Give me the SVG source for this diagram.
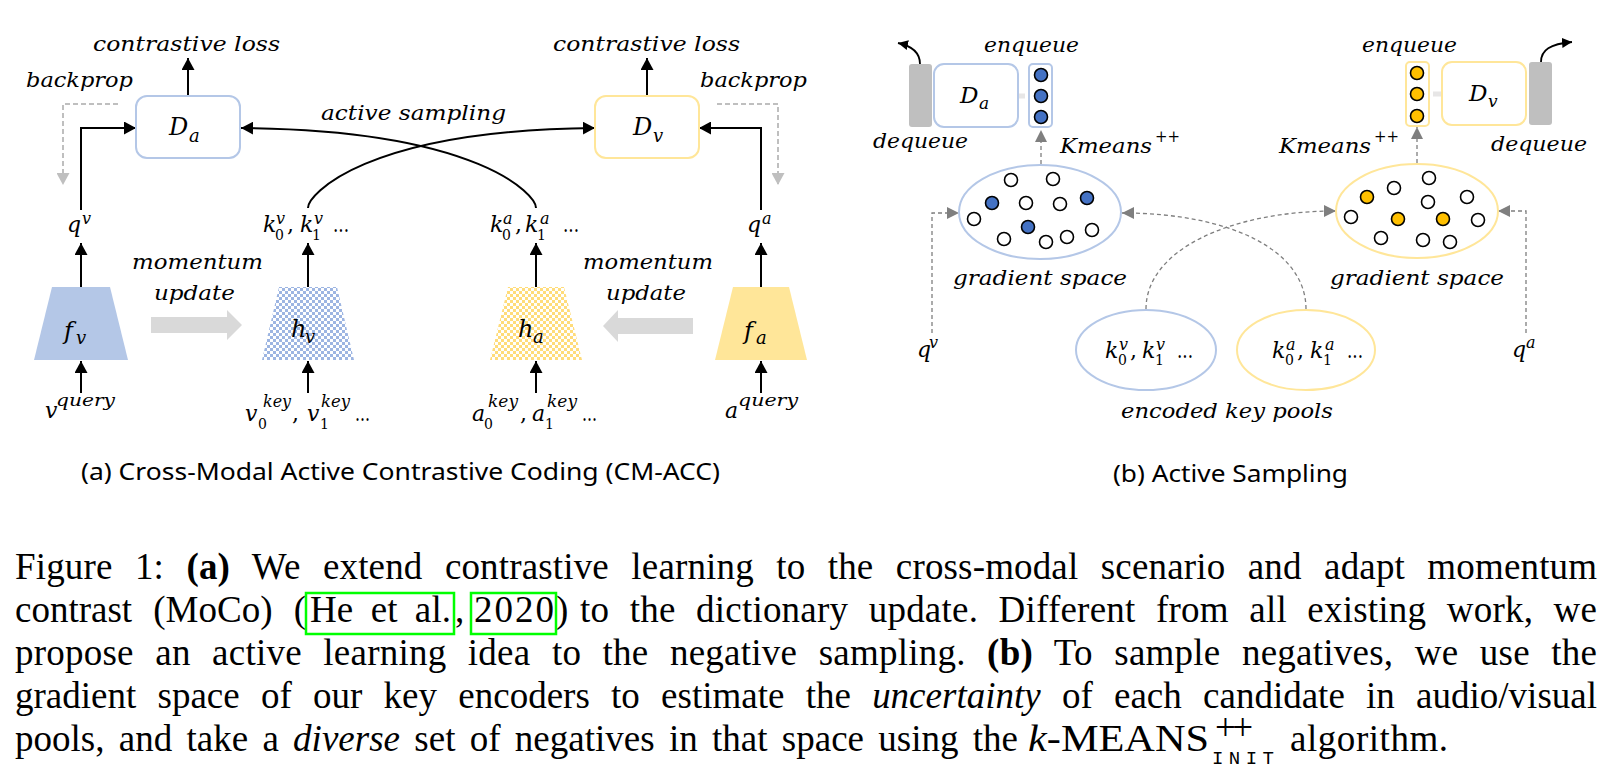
<svg xmlns="http://www.w3.org/2000/svg" width="1613" height="772" viewBox="0 0 1613 772">
<style>
.m{font-family:"DejaVu Serif",serif;font-style:italic;fill:#000}
.n{font-style:normal}
.t{font-size:21px}
.big{font-size:24px}
.sb{font-size:18px}
.lb{font-size:22px}
.sp{font-size:16px}
.sn{font-size:14px}
.cap{font-family:"Liberation Serif","Times New Roman",serif;font-size:37px;fill:#000}
.sc{font-family:"Noto Sans","Open Sans",sans-serif;font-size:24px;fill:#000}
.ln{stroke:#000;stroke-width:2;fill:none;marker-end:url(#ab)}
.bp{stroke:#bfbfbf;stroke-width:2;stroke-dasharray:5 3;fill:none;marker-end:url(#ag)}
.dl{stroke:#7f7f7f;stroke-width:1.3;stroke-dasharray:4 3;fill:none;marker-end:url(#ad)}
.cv{stroke:#000;stroke-width:1.8;fill:none;marker-end:url(#as)}
.bb{fill:#fff;stroke:#b4c7e7;stroke-width:2}
.yb{fill:#fff;stroke:#ffe699;stroke-width:2}
.bar{fill:#bfbfbf}
.wc{fill:#fff;stroke:#000;stroke-width:1.6}
.bc{fill:#4472c4;stroke:#000;stroke-width:1.6}
.oc{fill:#ffc000;stroke:#000;stroke-width:1.6}
.lg{fill:#e7e6e6}
.mom{fill:#d9d9d9}
.lnk{fill:none;stroke:#00ff00;stroke-width:2.5}
</style>
<defs>
<marker id="ab" markerUnits="userSpaceOnUse" markerWidth="13" markerHeight="13" refX="12" refY="6.5" orient="auto"><path d="M0,0 L12,6.5 L0,13 z" fill="#000"/></marker>
<marker id="ag" markerUnits="userSpaceOnUse" markerWidth="13" markerHeight="13" refX="12" refY="6.5" orient="auto"><path d="M0,0 L12,6.5 L0,13 z" fill="#bfbfbf"/></marker>
<marker id="ad" markerUnits="userSpaceOnUse" markerWidth="13" markerHeight="13" refX="12" refY="6" orient="auto"><path d="M0,0 L12,6 L0,12 z" fill="#7f7f7f"/></marker>
<marker id="as" markerUnits="userSpaceOnUse" markerWidth="11" markerHeight="11" refX="10" refY="5" orient="auto"><path d="M0,0 L10,5 L0,10 z" fill="#000"/></marker>
<pattern id="chkB" width="6" height="6" patternUnits="userSpaceOnUse"><rect width="6" height="6" fill="#fff"/><rect width="3" height="3" fill="#9db5e2"/><rect x="3" y="3" width="3" height="3" fill="#9db5e2"/></pattern>
<pattern id="chkY" width="6" height="6" patternUnits="userSpaceOnUse"><rect width="6" height="6" fill="#fff"/><rect width="3" height="3" fill="#ffdc7a"/><rect x="3" y="3" width="3" height="3" fill="#ffdc7a"/></pattern>
</defs>

<!-- ===== Part (a) ===== -->
<g id="connectors-a">
<path class="ln" d="M188,96 V58"/>
<path class="ln" d="M647,96 V58"/>
<path class="bp" d="M118,104 H63 V185"/>
<path class="bp" d="M717,104 H778 V185"/>
<path class="ln" d="M81,210 V128 H136"/>
<path class="ln" d="M761,210 V128 H699"/>
<path class="ln" d="M536,208 C536,195 480,130 241,128"/>
<path class="ln" d="M308,208 C308,195 364,130 595,128"/>
<path class="ln" d="M81,287 V243"/>
<path class="ln" d="M308,287 V243"/>
<path class="ln" d="M536,287 V243"/>
<path class="ln" d="M761,287 V243"/>
<path class="ln" d="M81,393 V361"/>
<path class="ln" d="M308,393 V361"/>
<path class="ln" d="M536,393 V361"/>
<path class="ln" d="M761,393 V361"/>
<polygon class="mom" points="151,317 227,317 227,310 242,325 227,340 227,333 151,333"/>
<polygon class="mom" points="693,318 618,318 618,310 603,326 618,342 618,334 693,334"/>
</g>

<g id="label-loss-left"><text class="m t" x="93" y="51" textLength="187" lengthAdjust="spacingAndGlyphs">contrastive loss</text></g>
<g id="label-loss-right"><text class="m t" x="553" y="51" textLength="187" lengthAdjust="spacingAndGlyphs">contrastive loss</text></g>
<g id="label-backprop-left"><text class="m t" x="26" y="87" textLength="107" lengthAdjust="spacingAndGlyphs">backprop</text></g>
<g id="label-backprop-right"><text class="m t" x="700" y="87" textLength="107" lengthAdjust="spacingAndGlyphs">backprop</text></g>
<g id="label-active-sampling"><text class="m t" x="321" y="120" textLength="185" lengthAdjust="spacingAndGlyphs">active sampling</text></g>
<g id="label-momentum-left"><text class="m t" x="132" y="269" textLength="131" lengthAdjust="spacingAndGlyphs">momentum</text><text class="m t" x="154" y="300" textLength="81" lengthAdjust="spacingAndGlyphs">update</text></g>
<g id="label-momentum-right"><text class="m t" x="583" y="269" textLength="130" lengthAdjust="spacingAndGlyphs">momentum</text><text class="m t" x="606" y="300" textLength="80" lengthAdjust="spacingAndGlyphs">update</text></g>

<g id="node-Da"><rect class="bb" x="136" y="96" width="104" height="62" rx="11"/><text class="m big" x="169" y="135">D</text><text class="m sb" x="189" y="142">a</text></g>
<g id="node-Dv"><rect class="yb" x="595" y="96" width="104" height="62" rx="11"/><text class="m big" x="633" y="135">D</text><text class="m sb" x="653" y="142">v</text></g>

<g id="node-fv"><polygon points="52,287 110,287 128,360 34,360" fill="#b4c7e7"/><text class="m big" x="64" y="339">f</text><text class="m sb" x="76" y="344">v</text></g>
<g id="node-hv"><polygon points="279,287 337,287 354,360 262,360" fill="url(#chkB)"/><text class="m big" x="291" y="337">h</text><text class="m sb" x="305" y="343">v</text></g>
<g id="node-ha"><polygon points="508,287 564,287 582,360 490,360" fill="url(#chkY)"/><text class="m big" x="518" y="337">h</text><text class="m sb" x="533" y="343">a</text></g>
<g id="node-fa"><polygon points="733,287 789,287 807,360 715,360" fill="#ffe699"/><text class="m big" x="744" y="339">f</text><text class="m sb" x="756" y="344">a</text></g>

<g id="label-qv-a"><text class="m lb" x="67" y="232">q</text><text class="m sp" x="82" y="224">v</text></g>
<g id="label-qa-a"><text class="m lb" x="747" y="232">q</text><text class="m sp" x="762" y="224">a</text></g>
<g id="label-kv-a"><text class="m lb" x="263" y="232">k</text><text class="m n sn" x="275" y="240">0</text><text class="m sp" x="276" y="224">v</text><text class="m n lb" x="287" y="232">,</text><text class="m lb" x="300" y="232">k</text><text class="m n sn" x="312" y="240">1</text><text class="m sp" x="314" y="224">v</text><text class="m n lb" x="333" y="232" textLength="16" lengthAdjust="spacingAndGlyphs">...</text></g>
<g id="label-ka-a"><text class="m lb" x="490" y="232">k</text><text class="m n sn" x="502" y="240">0</text><text class="m sp" x="503" y="224">a</text><text class="m n lb" x="515" y="232">,</text><text class="m lb" x="525" y="232">k</text><text class="m n sn" x="537" y="240">1</text><text class="m sp" x="540" y="224">a</text><text class="m n lb" x="563" y="232" textLength="16" lengthAdjust="spacingAndGlyphs">...</text></g>
<g id="label-vquery"><text class="m lb" x="45" y="418">v</text><text class="m sp" x="56" y="406" textLength="59" lengthAdjust="spacingAndGlyphs">query</text></g>
<g id="label-aquery"><text class="m lb" x="725" y="418">a</text><text class="m sp" x="738" y="406" textLength="60" lengthAdjust="spacingAndGlyphs">query</text></g>
<g id="label-vkey"><text class="m lb" x="245" y="421">v</text><text class="m n sn" x="258" y="429">0</text><text class="m sp" x="263" y="407" textLength="28" lengthAdjust="spacingAndGlyphs">key</text><text class="m n lb" x="292" y="421">,</text><text class="m lb" x="307" y="421">v</text><text class="m n sn" x="320" y="429">1</text><text class="m sp" x="321" y="407" textLength="29" lengthAdjust="spacingAndGlyphs">key</text><text class="m n lb" x="355" y="421" textLength="15" lengthAdjust="spacingAndGlyphs">...</text></g>
<g id="label-akey"><text class="m lb" x="472" y="421">a</text><text class="m n sn" x="484" y="429">0</text><text class="m sp" x="488" y="407" textLength="30" lengthAdjust="spacingAndGlyphs">key</text><text class="m n lb" x="520" y="421">,</text><text class="m lb" x="532" y="421">a</text><text class="m n sn" x="545" y="429">1</text><text class="m sp" x="547" y="407" textLength="30" lengthAdjust="spacingAndGlyphs">key</text><text class="m n lb" x="582" y="421" textLength="15" lengthAdjust="spacingAndGlyphs">...</text></g>

<g id="caption-a"><text class="sc" x="81" y="480" textLength="639" lengthAdjust="spacingAndGlyphs">(a) Cross-Modal Active Contrastive Coding (CM-ACC)</text></g>

<!-- ===== Part (b) ===== -->
<g id="connectors-b">
<path class="cv" d="M920,64 C920,52 912,46 898,43"/>
<path class="cv" d="M1541,62 C1541,50 1550,44 1572,42"/>
<path class="dl" d="M1041,164 V130"/>
<path class="dl" d="M1417,163 V127"/>
<path class="dl" d="M932,333 V213 H959"/>
<path class="dl" d="M1526,333 V211 H1498"/>
<path class="dl" d="M1146,309 C1146,250 1230,211 1336,211"/>
<path class="dl" d="M1306,309 C1306,250 1230,213 1122,213"/>
<rect class="lg" x="1007" y="93.5" width="18" height="5"/><polygon class="lg" points="1000,96 1008,90.5 1008,101.5"/>
<rect class="lg" x="1433" y="91.5" width="18" height="5"/><polygon class="lg" points="1459,94 1451,88.5 1451,99.5"/>
</g>

<g id="node-bar-left"><rect class="bar" x="909" y="64" width="23" height="63" rx="3"/></g>
<g id="node-Da-b"><rect class="bb" x="934" y="64" width="84" height="63" rx="10"/><text class="m" font-size="23" x="960" y="103">D</text><text class="m" font-size="17" x="979" y="109">a</text></g>
<g id="node-queue-left"><rect class="bb" x="1029" y="64" width="23" height="63" rx="4"/><circle class="bc" cx="1041" cy="75" r="6.5"/><circle class="bc" cx="1041" cy="96" r="6.5"/><circle class="bc" cx="1041" cy="117" r="6.5"/></g>
<g id="label-enqueue-left"><text class="m t" x="984" y="52" textLength="95" lengthAdjust="spacingAndGlyphs">enqueue</text></g>
<g id="label-dequeue-left"><text class="m t" x="873" y="148" textLength="95" lengthAdjust="spacingAndGlyphs">dequeue</text></g>
<g id="label-kmeans-left"><text class="m t" x="1060" y="153" textLength="92" lengthAdjust="spacingAndGlyphs">Kmeans</text><text class="m sp" x="1155" y="142" textLength="25" lengthAdjust="spacingAndGlyphs">++</text></g>

<g id="node-grad-left">
<ellipse class="bb" cx="1040" cy="212" rx="81" ry="47"/>
<circle class="wc" cx="1011" cy="180" r="6.5"/><circle class="wc" cx="1053" cy="179" r="6.5"/>
<circle class="bc" cx="992" cy="203" r="6.5"/><circle class="wc" cx="1026" cy="203" r="6.5"/>
<circle class="wc" cx="1060" cy="204" r="6.5"/><circle class="bc" cx="1087" cy="198" r="6.5"/>
<circle class="wc" cx="974" cy="219" r="6.5"/><circle class="bc" cx="1028" cy="227" r="6.5"/>
<circle class="wc" cx="1004" cy="239" r="6.5"/><circle class="wc" cx="1046" cy="242" r="6.5"/>
<circle class="wc" cx="1067" cy="237" r="6.5"/><circle class="wc" cx="1092" cy="230" r="6.5"/>
</g>
<g id="label-grad-left"><text class="m t" x="953" y="285" textLength="174" lengthAdjust="spacingAndGlyphs">gradient space</text></g>

<g id="node-queue-right"><rect class="yb" x="1406" y="62" width="23" height="64" rx="4"/><circle class="oc" cx="1417" cy="73" r="6.5"/><circle class="oc" cx="1417" cy="94" r="6.5"/><circle class="oc" cx="1417" cy="116" r="6.5"/></g>
<g id="node-Dv-b"><rect class="yb" x="1442" y="62" width="84" height="63" rx="10"/><text class="m" font-size="23" x="1469" y="101">D</text><text class="m" font-size="17" x="1488" y="107">v</text></g>
<g id="node-bar-right"><rect class="bar" x="1529" y="62" width="23" height="63" rx="3"/></g>
<g id="label-enqueue-right"><text class="m t" x="1362" y="52" textLength="95" lengthAdjust="spacingAndGlyphs">enqueue</text></g>
<g id="label-dequeue-right"><text class="m t" x="1491" y="151" textLength="96" lengthAdjust="spacingAndGlyphs">dequeue</text></g>
<g id="label-kmeans-right"><text class="m t" x="1279" y="153" textLength="92" lengthAdjust="spacingAndGlyphs">Kmeans</text><text class="m sp" x="1374" y="142" textLength="25" lengthAdjust="spacingAndGlyphs">++</text></g>

<g id="node-grad-right">
<ellipse class="yb" cx="1417" cy="211" rx="81" ry="47"/>
<circle class="oc" cx="1367" cy="197" r="6.5"/><circle class="wc" cx="1394" cy="188" r="6.5"/>
<circle class="wc" cx="1429" cy="178" r="6.5"/><circle class="wc" cx="1428" cy="202" r="6.5"/>
<circle class="wc" cx="1467" cy="197" r="6.5"/><circle class="wc" cx="1351" cy="217" r="6.5"/>
<circle class="oc" cx="1398" cy="219" r="6.5"/><circle class="oc" cx="1443" cy="219" r="6.5"/>
<circle class="wc" cx="1478" cy="220" r="6.5"/><circle class="wc" cx="1381" cy="238" r="6.5"/>
<circle class="wc" cx="1423" cy="240" r="6.5"/><circle class="wc" cx="1450" cy="242" r="6.5"/>
</g>
<g id="label-grad-right"><text class="m t" x="1330" y="285" textLength="174" lengthAdjust="spacingAndGlyphs">gradient space</text></g>

<g id="label-qv-b"><text class="m lb" x="917" y="357">q</text><text class="m sp" x="929" y="348">v</text></g>
<g id="label-qa-b"><text class="m lb" x="1512" y="357">q</text><text class="m sp" x="1526" y="348">a</text></g>

<g id="node-pool-v"><ellipse class="bb" cx="1146" cy="350" rx="70" ry="40"/><text class="m lb" x="1105" y="358">k</text><text class="m n sn" x="1118" y="365">0</text><text class="m sp" x="1119" y="350">v</text><text class="m n lb" x="1130" y="358">,</text><text class="m lb" x="1142" y="358">k</text><text class="m n sn" x="1155" y="365">1</text><text class="m sp" x="1156" y="350">v</text><text class="m n lb" x="1177" y="358" textLength="16" lengthAdjust="spacingAndGlyphs">...</text></g>
<g id="node-pool-a"><ellipse class="yb" cx="1306" cy="350" rx="69" ry="40"/><text class="m lb" x="1272" y="358">k</text><text class="m n sn" x="1285" y="365">0</text><text class="m sp" x="1286" y="350">a</text><text class="m n lb" x="1297" y="358">,</text><text class="m lb" x="1310" y="358">k</text><text class="m n sn" x="1323" y="365">1</text><text class="m sp" x="1325" y="350">a</text><text class="m n lb" x="1347" y="358" textLength="16" lengthAdjust="spacingAndGlyphs">...</text></g>
<g id="label-pools"><text class="m t" x="1121" y="418" textLength="212" lengthAdjust="spacingAndGlyphs">encoded key pools</text></g>
<g id="caption-b"><text class="sc" x="1113" y="482" textLength="235" lengthAdjust="spacingAndGlyphs">(b) Active Sampling</text></g>

<!-- ===== Figure caption ===== -->
<g id="figure-caption">
<text class="cap" x="15" y="579" word-spacing="13" textLength="1582" lengthAdjust="spacing">Figure 1:  <tspan font-weight="bold">(a)</tspan> We extend contrastive learning to the cross-modal scenario and adapt momentum</text>
<text class="cap" x="15" y="622" word-spacing="12" textLength="291" lengthAdjust="spacing">contrast (MoCo) (</text>
<text class="cap" x="310" y="622" word-spacing="8" textLength="141" lengthAdjust="spacing">He et al.</text>
<text class="cap" x="455" y="622">,</text>
<text class="cap" x="474" y="622" textLength="80" lengthAdjust="spacing">2020</text>
<text class="cap" x="556" y="622">)</text>
<text class="cap" x="580" y="622" word-spacing="11" textLength="1017" lengthAdjust="spacing">to the dictionary update.  Different from all existing work, we</text>
<rect class="lnk" x="306" y="593" width="148" height="41"/>
<rect class="lnk" x="471" y="593" width="85" height="41"/>
<text class="cap" x="15" y="665" word-spacing="12" textLength="1582" lengthAdjust="spacing">propose an active learning idea to the negative sampling.  <tspan font-weight="bold">(b)</tspan> To sample negatives, we use the</text>
<text class="cap" x="15" y="708" word-spacing="12" textLength="1582" lengthAdjust="spacing">gradient space of our key encoders to estimate the <tspan font-style="italic">uncertainty</tspan> of each candidate in audio/visual</text>
<text class="cap" x="15" y="751" word-spacing="5" textLength="1003" lengthAdjust="spacing">pools, and take a <tspan font-style="italic">diverse</tspan> set of negatives in that space using the</text>
<text class="cap" x="1028" y="751" textLength="181" lengthAdjust="spacingAndGlyphs"><tspan font-style="italic">k</tspan>-MEANS</text>
<text class="cap" font-size="18" x="1215" y="740" textLength="38" lengthAdjust="spacing">++</text>
<text font-family="Liberation Mono, monospace" font-size="19" x="1212" y="764" textLength="62" lengthAdjust="spacing">INIT</text>
<text class="cap" x="1290" y="751" textLength="158" lengthAdjust="spacing">algorithm.</text>
</g>
</svg>
